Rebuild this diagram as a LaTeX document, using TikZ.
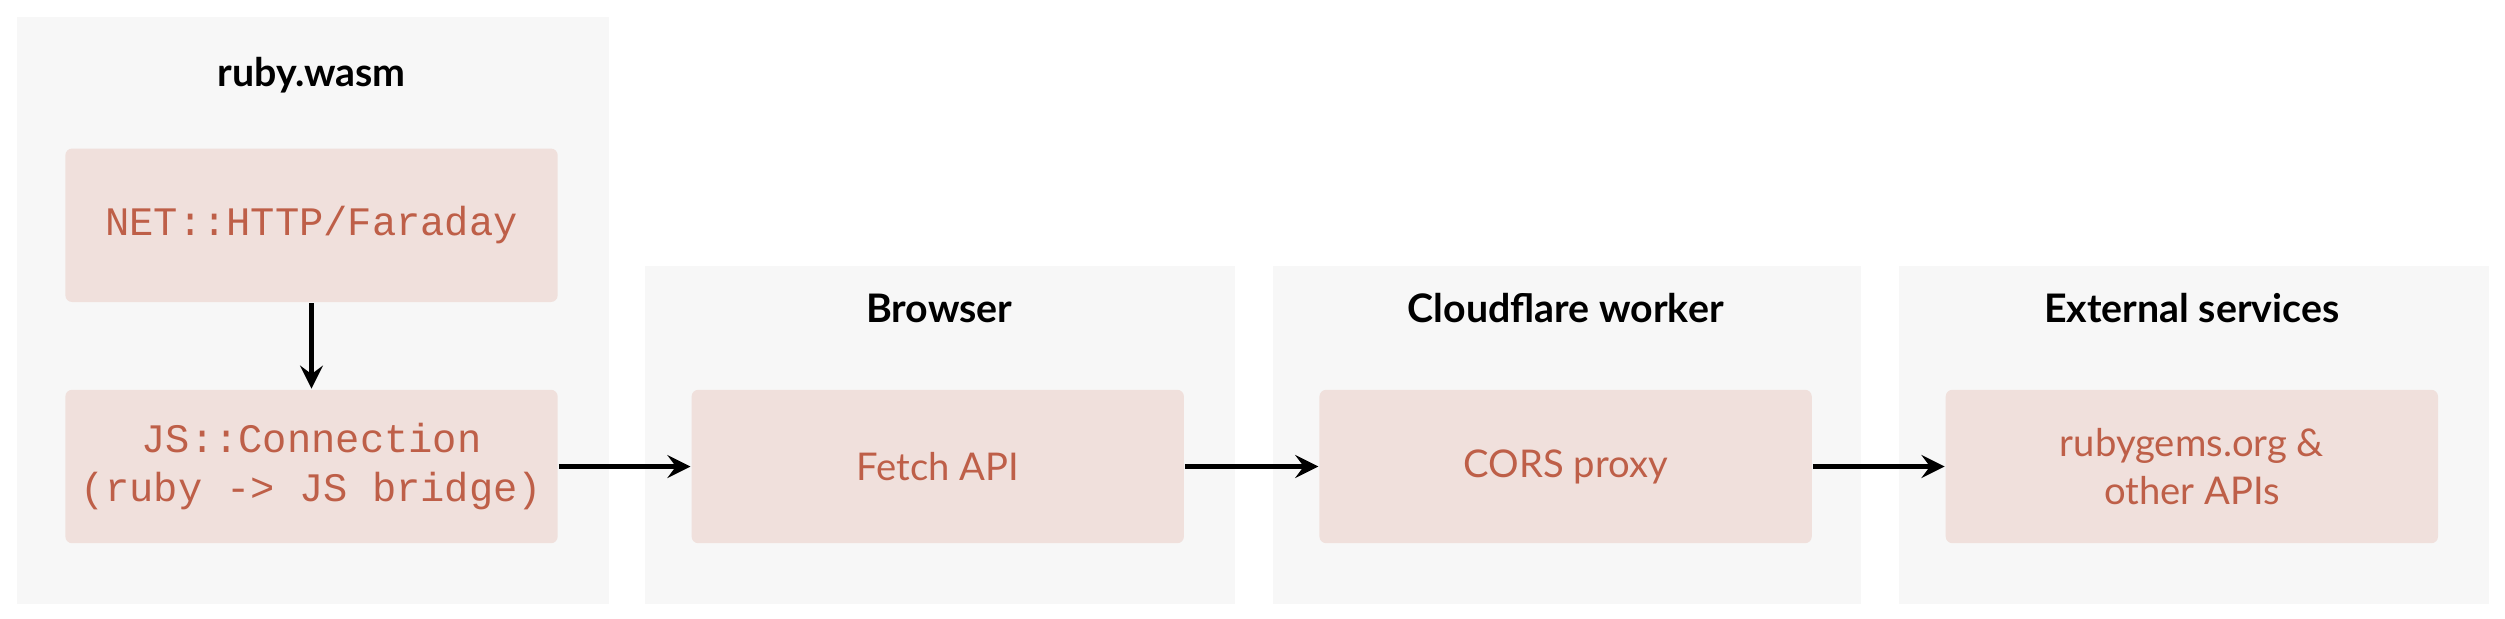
\documentclass[tikz,border=0pt]{standalone}
\usepackage{fontspec}
\setmainfont{Lato}
\setmonofont{Liberation Mono}
\usetikzlibrary{positioning}
\definecolor{panelgrey}{RGB}{247,247,247}
\definecolor{boxpink}{RGB}{240,224,220}
\definecolor{boxtext}{RGB}{190,95,72}
\tikzset{
    panel/.style={fill=panelgrey, draw=none, anchor=north west, inner sep=0pt},
    title/.style={font=\fontsize{7}{8}\selectfont\bfseries, text=black},
    stage/.style={fill=boxpink, rounded corners=1.2pt, minimum width=3.08cm, minimum height=0.96cm,
        font=\fontsize{6.8}{8.4}\selectfont, text=boxtext, align=center, inner sep=0pt},
    code/.style={stage, font=\ttfamily\fontsize{7.2}{8.6}\selectfont},
    link/.style={->, >=stealth, thick}
}
\begin{document}
\begin{tikzpicture}[x=0.01cm, y=-0.01cm]
    \useasboundingbox (0,0) rectangle (1568,387);
    % panels
    \node[panel, minimum width=3.70cm, minimum height=3.67cm] (pRuby) at (10,10) {};
    \node[panel, minimum width=3.69cm, minimum height=2.11cm] (pBrowser) at (403,166) {};
    \node[panel, minimum width=3.68cm, minimum height=2.11cm] (pWorker) at (796,166) {};
    \node[panel, minimum width=3.69cm, minimum height=2.11cm] (pExternal) at (1188,166) {};
    % titles
    \node[title] (tRuby) at (195,47) {ruby.wasm};
    \node[title] (tBrowser) at (588,193) {Browser};
    \node[title] (tWorker) at (980,193) {Cloudflare worker};
    \node[title] (tExternal) at (1372,193) {External services};
    % boxes
    \node[code] (net) at (195,141) {NET::HTTP/Faraday};
    \node[code] (conn) at (195,292) {JS::Connection\\(ruby -> JS bridge)};
    \node[stage] (fetch) at (587,292) {Fetch API};
    \node[stage] (cors) at (980,292) {CORS proxy};
    \node[stage] (gems) at (1372,292) {rubygems.org \&\\other APIs};
    % connectors
    \draw[link] (net) -- (conn);
    \draw[link] (conn) -- (fetch);
    \draw[link] (fetch) -- (cors);
    \draw[link] (cors) -- (gems);
\end{tikzpicture}
\end{document}
